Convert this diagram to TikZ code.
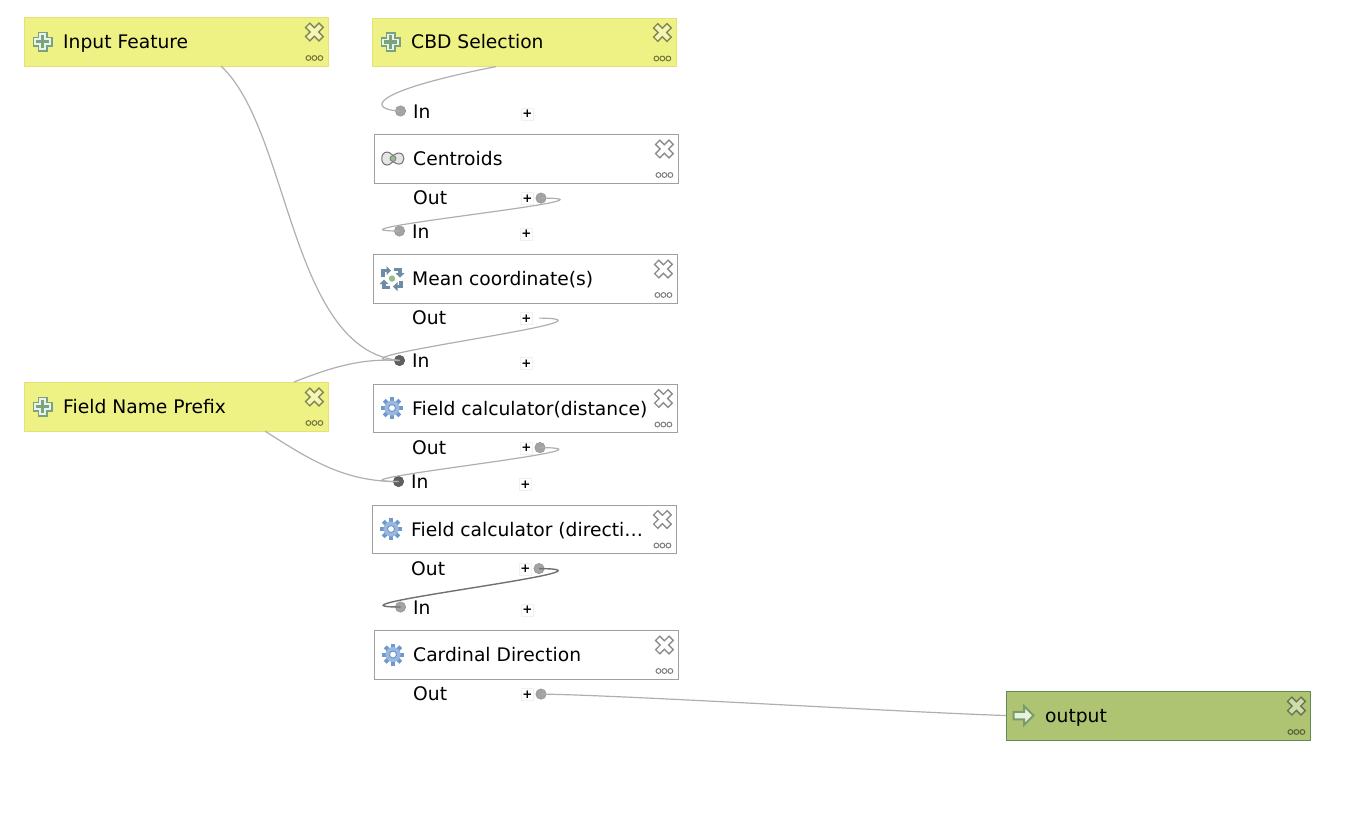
\documentclass[tikz,border=0pt]{standalone}
\usepackage{fontspec}
\setmainfont{DejaVu Sans}
\usepackage{tikz}
\usetikzlibrary{calc}
\definecolor{inputyellow}{HTML}{EEF184}
\definecolor{inputedge}{HTML}{E6E078}
\definecolor{outputgreen}{HTML}{AEC473}
\definecolor{outputedge}{HTML}{5E8B54}
\definecolor{algedge}{HTML}{A0A0A0}
\definecolor{linkgray}{HTML}{AFAFAF}
\definecolor{linkdark}{HTML}{707070}
\definecolor{socketgray}{HTML}{A3A3A3}
\definecolor{socketdark}{HTML}{5F5F5F}
\definecolor{gearblue}{HTML}{6F98CF}
\definecolor{slateblue}{HTML}{6E8CA3}
\definecolor{iconleaf}{HTML}{7AA37D}
\definecolor{dotgreen}{HTML}{8FC088}
\tikzset{
  boxtext/.style={anchor=west, inner sep=0pt, text height=13.5pt, text depth=0pt,
    font=\fontsize{18.7}{20}\selectfont},
  inputbox/.style={draw=inputedge, fill=inputyellow, anchor=north west, inner sep=0pt,
    minimum width=304pt, minimum height=48.7pt},
  algbox/.style={inputbox, draw=algedge, fill=white},
  outputbox/.style={inputbox, draw=outputedge, fill=outputgreen},
  portplus/.style={draw=black!6, fill=white, inner sep=0pt, minimum size=12pt,
    font=\fontsize{12}{12}\selectfont\bfseries},
  socket/.style={circle, draw=black!45, fill=socketgray, inner sep=0pt, minimum size=10.5pt},
  socketon/.style={socket, draw=black!70, fill=socketdark},
  link/.style={linkgray, line width=1.2pt},
  linkon/.style={linkdark, line width=1.4pt},
  boxmarks/.pic={
    \begin{scope}[shift={(-14,15)}, rotate=45]
      \draw[black, draw opacity=.45, fill=white, fill opacity=.4, line width=1.3pt]
        (-3,-3) -- (-3,-9.5) -- (3,-9.5) -- (3,-3) -- (9.5,-3) -- (9.5,3) -- (3,3)
        -- (3,9.5) -- (-3,9.5) -- (-3,3) -- (-9.5,3) -- (-9.5,-3) -- cycle;
    \end{scope}
    \foreach \dx in {-6,0,6}
      \draw[black, draw opacity=.5, line width=1pt] (-14+\dx,41) circle (2.4);
  },
  plusicon/.pic={
    \foreach \col/\wd in {iconleaf/10,white!85!iconleaf/6.5,iconleaf/3.5}{
      \draw[\col, line width=\wd pt] (-5-\wd/2,0) -- (5+\wd/2,0);
      \draw[\col, line width=\wd pt] (0,-5-\wd/2) -- (0,5+\wd/2);
    }
  },
  gearicon/.pic={
    \foreach \ang in {0,45,...,315}
      \draw[gearblue, line width=4pt] (0,0) -- (\ang:11);
    \fill[gearblue!70!white] (0,0) circle (7.5);
    \fill[white] (0,0) circle (3.5);
    \draw[gearblue, line width=1pt] (0,0) circle (3.5);
  },
  twinicon/.pic={
    \draw[black!55, fill=black!10, line width=1pt] (-6,-6.5) .. controls (-2,-6.5) and (-2,-3.2) .. (0,-3.2)
      .. controls (2,-3.2) and (2,-5.5) .. (6,-5.5) .. controls (12.5,-5.5) and (12.5,5.5) .. (6,5.5)
      .. controls (2,5.5) and (2,3.2) .. (0,3.2) .. controls (-2,3.2) and (-2,6.5) .. (-6,6.5)
      .. controls (-13,6.5) and (-13,-6.5) .. cycle;
    \draw[black!55, fill=dotgreen, line width=.7pt] (0,0) circle (3);
  },
  meanicon/.pic={
    \foreach \ang in {0,90,180,270}{
      \draw[slateblue, line width=3.6pt, rotate=\ang] (2,-9) -- (8,-9) -- (8,-5);
      \fill[slateblue, rotate=\ang] (3.5,-5.5) -- (12.5,-5.5) -- (8,-1) -- cycle;
    }
    \fill[dotgreen] (0,0) circle (3.2);
  },
  arrowicon/.pic={
    \draw[outputedge!85!white, fill=white!75!outputgreen, line width=2pt]
      (-10,-3.7) -- (0.5,-3.7) -- (0.5,-9.5) -- (10,0) -- (0.5,9.5) -- (0.5,3.7) -- (-10,3.7) -- cycle;
  },
}

\begin{document}
\begin{tikzpicture}[x=1pt, y=-1pt]
  \useasboundingbox (0,0) rectangle (1346,819);

  % parameters
  \foreach \nm/\lx/\ty/\title in {inputfeature/24/17/{Input Feature}, cbdselection/372/17.5/{CBD Selection},
      fieldprefix/24/382/{Field Name Prefix}}{
    \node[inputbox] (\nm) at (\lx,\ty) {};
    \pic at (\nm.north east) {boxmarks};
    \pic at ($(\nm.west)+(18.5pt,0)$) {plusicon};
    \node[boxtext] (\nm-title) at ($(\nm.west)+(39pt,0)$) {\title};
  }

  % algorithms
  \foreach \nm/\lx/\ty/\title/\icon in {centroids/374/134/{Centroids}/twinicon,
      meancoord/373/254/{Mean coordinate(s)}/meanicon,
      fielddist/373/383.5/{Field calculator(distance)}/gearicon,
      fielddir/372/504.5/{Field calculator (directi…}/gearicon,
      cardinal/374/630/{Cardinal Direction}/gearicon}{
    \node[algbox] (\nm) at (\lx,\ty) {};
    \pic at (\nm.north east) {boxmarks};
    \pic at ($(\nm.west)+(19pt,0)$) {\icon};
    \node[boxtext] (\nm-title) at ($(\nm.west)+(39pt,-0.5pt)$) {\title};
    \node[boxtext] (\nm-intext) at ($(\nm.north west)+(39pt,22.5pt)$) {In};
    \node[portplus] (\nm-inplus) at ($(\nm.north west)+(153.5pt,20pt)$) {+};
    \node[boxtext] (\nm-outtext) at ($(\nm.south west)+(39pt,-15pt)$) {Out};
    \node[portplus] (\nm-outplus) at ($(\nm.south west)+(153.5pt,-15.5pt)$) {+};
  }

  % output
  \node[outputbox] (output) at (1006,691) {};
  \pic at (output.north east) {boxmarks};
  \pic at ($(output.west)+(17.5pt,0)$) {arrowicon};
  \node[boxtext] (output-title) at ($(output.west)+(39pt,0)$) {output};

  % sockets
  \foreach \nm/\sty in {centroids/socket, meancoord/socket, fielddist/socketon, fielddir/socketon, cardinal/socket}
    \node[\sty] (\nm-in) at ($(\nm.north west)+(26.5pt,23pt)$) {};
  \foreach \nm in {centroids, fielddist, fielddir, cardinal}
    \node[socket] (\nm-out) at ($(\nm.south west)+(167pt,-15pt)$) {};
  \coordinate (meancoord-out) at ($(meancoord.south west)+(166pt,-15pt)$);

  % links
  \draw[link] ([xshift=197pt]inputfeature.south west) .. controls (290,130) and (290,350) .. (fielddist-in.center);
  \draw[link] ([xshift=124pt]cbdselection.south west) .. controls (362,93) and (370,110) .. (centroids-in.center);
  \draw[link] (centroids-out.center) .. controls (642,198) and (305,231) .. (meancoord-in.center);
  \draw[link] (meancoord-out) .. controls (640,319) and (305,360) .. (fielddist-in.center);
  \draw[link] ([xshift=270pt]fieldprefix.north west) .. controls (330,368) and (360,358) .. (fielddist-in.center);
  \draw[link] ([xshift=241pt]fieldprefix.south west) .. controls (310,460) and (345,482) .. (fielddir-in.center);
  \draw[link] (fielddist-out.center) .. controls (640,448) and (305,482) .. (fielddir-in.center);
  \draw[linkon] (fielddir-out.center) .. controls (640,569) and (305,607) .. (cardinal-in.center);
  \draw[link] (cardinal-out.center) .. controls (620,695) and (900,712) .. (output.west);
\end{tikzpicture}
\end{document}
